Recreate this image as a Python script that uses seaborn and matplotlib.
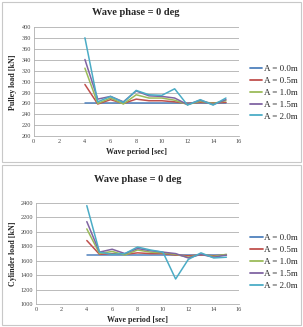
import matplotlib
matplotlib.use("Agg")
import matplotlib.pyplot as plt
import matplotlib.patches as mpatches
import pandas as pd
import seaborn as sns

# wave periods [sec]
period = [4, 5, 6, 7, 8, 9, 10, 11, 12, 13, 14, 15]
labels = ['A = 0.0m', 'A = 0.5m', 'A = 1.0m', 'A = 1.5m', 'A = 2.0m']

# pulley load [kN]
pulley_00 = [261, 261, 261, 261, 261, 261, 261, 261, 261, 261, 261, 261]
pulley_05 = [295, 259, 267, 260, 268, 265, 265, 263, 260, 262, 261, 262]
pulley_10 = [325, 260, 270, 259, 276, 270, 270, 266, 258, 264, 260, 265]
pulley_15 = [341, 268, 273, 263, 283, 274, 273, 270, 258, 266, 258, 267]
pulley_20 = [381, 263, 273, 262, 284, 276, 275, 287, 257, 267, 257, 270]

# cylinder load [kN]
cyl_00 = [1680, 1680, 1680, 1680, 1680, 1680, 1680, 1680, 1680, 1680, 1680, 1680]
cyl_05 = [1880, 1690, 1700, 1690, 1710, 1700, 1700, 1680, 1670, 1680, 1670, 1680]
cyl_10 = [2040, 1700, 1730, 1680, 1750, 1720, 1710, 1690, 1650, 1690, 1660, 1690]
cyl_15 = [2140, 1720, 1760, 1700, 1770, 1740, 1720, 1700, 1640, 1690, 1650, 1680]
cyl_20 = [2360, 1720, 1690, 1700, 1790, 1750, 1720, 1350, 1620, 1710, 1640, 1650]

colors = ['#4F81BD', '#C0504D', '#9BBB59', '#8064A2', '#4BACC6']


def make_df(series):
    rows = []
    for lab, vals in zip(labels, series):
        for p, v in zip(period, vals):
            rows.append({'period': p, 'load': v, 'amp': lab})
    return pd.DataFrame(rows)


pulley = make_df([pulley_00, pulley_05, pulley_10, pulley_15, pulley_20])
cyl = make_df([cyl_00, cyl_05, cyl_10, cyl_15, cyl_20])

sns.set_style('white')
plt.rcParams['font.family'] = ['Liberation Serif', 'DejaVu Serif']

fig = plt.figure(figsize=(3.03, 3.27), dpi=100)

# panel frames
for y0, h in [(0.505, 0.49), (0.005, 0.49)]:
    fig.patches.append(mpatches.Rectangle((0.005, y0), 0.99, h, transform=fig.transFigure,
                                          fill=False, edgecolor='#c8c8c8', linewidth=0.8))

ax1 = fig.add_axes([0.111, 0.584, 0.677, 0.332])
ax2 = fig.add_axes([0.119, 0.069, 0.670, 0.311])


def style(ax, df, ylim, yticks, ylabel, leg_y, title_pad):
    sns.lineplot(data=df, x='period', y='load', hue='amp', palette=colors, ax=ax,
                 linewidth=1.1, legend=True)
    ax.set_xlim(0, 16)
    ax.set_xticks(range(0, 17, 2))
    ax.set_ylim(*ylim)
    ax.set_yticks(yticks)
    ax.tick_params(labelsize=4.5, length=0, pad=2, colors='#444444')
    ax.yaxis.grid(True, color='#b0b0b0', linewidth=0.6)
    ax.xaxis.grid(False)
    for s in ['top', 'right']:
        ax.spines[s].set_visible(False)
    for s in ['left', 'bottom']:
        ax.spines[s].set_color('#b0b0b0')
        ax.spines[s].set_linewidth(0.6)
    ax.set_xlabel('Wave period [sec]', fontsize=5.8, fontweight='bold', labelpad=3)
    ax.set_ylabel(ylabel, fontsize=5.8, fontweight='bold', labelpad=3)
    ax.set_title('Wave phase = 0 deg', fontsize=7.5, fontweight='bold', pad=title_pad)
    leg = ax.legend(loc='center left', bbox_to_anchor=(1.038, leg_y), frameon=False,
                    fontsize=6.5, handlelength=1.35, handletextpad=0.2, labelspacing=0.4,
                    borderaxespad=0)
    for line in leg.get_lines():
        line.set_linewidth(1.3)


style(ax1, pulley, (200, 400), range(200, 401, 20), 'Pulley load [kN]', 0.40, 9)
style(ax2, cyl, (1000, 2400), range(1000, 2401, 200), 'Cylinder load [kN]', 0.42, 15)

fig.savefig('out.png', dpi=100)
